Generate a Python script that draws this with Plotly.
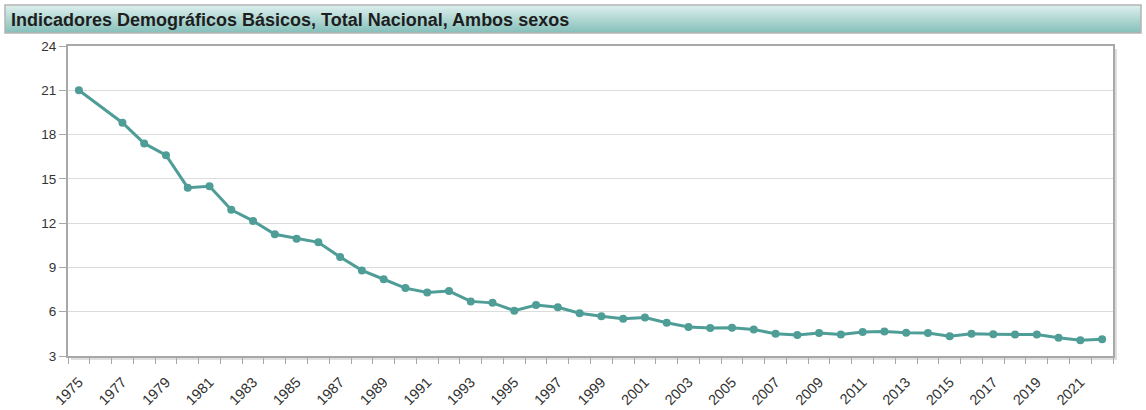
import plotly.graph_objects as go

# ---- data ----
years = list(range(1975, 2023))
values = [21.0, None, 18.8, 17.4, 16.6, 14.4, 14.5, 12.9, 12.15, 11.25,
          10.95, 10.7, 9.7, 8.8, 8.2, 7.6, 7.3, 7.4, 6.7, 6.6,
          6.07, 6.45, 6.3, 5.9, 5.7, 5.53, 5.6, 5.25, 4.97, 4.9,
          4.92, 4.8, 4.5, 4.42, 4.55, 4.46, 4.62, 4.66, 4.57, 4.55,
          4.34, 4.5, 4.48, 4.46, 4.45, 4.24, 4.07, 4.14]
label_years = years[::2]
y_ticks = [3, 6, 9, 12, 15, 18, 21, 24]
title_text = "Indicadores Demográficos Básicos, Total Nacional, Ambos sexos"

W, H = 1146, 410
ML, MR, MT, MB = 68, 33, 46, 54
PW, PH = W - ML - MR, H - MT - MB

def px_x(p):
    return (p - ML) / PW

def px_y(p):
    return (H - MB - p) / PH

line_color = "#4f9d97"
axis_grey = "#a8a8a8"
font_family = "Liberation Sans, Arial, sans-serif"

fig = go.Figure()
fig.add_trace(go.Scatter(
    x=years, y=values, mode="lines+markers", connectgaps=True,
    line=dict(color=line_color, width=3),
    marker=dict(color=line_color, size=8),
    hoverinfo="x+y", showlegend=False,
))

shapes = []
# shadow of plot frame
shapes.append(dict(type="rect", xref="paper", yref="paper", layer="below",
                   x0=px_x(ML + 3), x1=px_x(ML + PW + 4), y0=px_y(H - MB + 4), y1=px_y(MT + 3),
                   fillcolor="rgba(0,0,0,0.13)", line=dict(width=0)))
shapes.append(dict(type="rect", xref="paper", yref="paper", layer="below",
                   x0=0, x1=1, y0=0, y1=1, fillcolor="white", line=dict(width=0)))

# title bar gradient (stacked thin bands)
top, bot = 5, 33
c_top = (220, 239, 236)
c_bot = (134, 192, 187)
n = bot - top
for i in range(n):
    t = i / (n - 1)
    c = tuple(round(c_top[k] + (c_bot[k] - c_top[k]) * t) for k in range(3))
    shapes.append(dict(type="rect", xref="paper", yref="paper", layer="above",
                       x0=px_x(5), x1=px_x(1141), y0=px_y(top + i + 1), y1=px_y(top + i),
                       fillcolor="rgb(%d,%d,%d)" % c, line=dict(width=0)))
shapes.append(dict(type="rect", xref="paper", yref="paper", layer="above",
                   x0=px_x(5), x1=px_x(1141), y0=px_y(bot), y1=px_y(top),
                   fillcolor="rgba(0,0,0,0)", line=dict(color="#b4b4b4", width=1.5)))

fig.update_layout(
    width=W, height=H,
    margin=dict(l=ML, r=MR, t=MT, b=MB, pad=0, autoexpand=False),
    paper_bgcolor="white", plot_bgcolor="rgba(0,0,0,0)",
    font=dict(family=font_family, size=13.5, color="#333333"),
    shapes=shapes,
    annotations=[dict(text="<b>" + title_text + "</b>", xref="paper", yref="paper",
                      x=px_x(9), y=px_y(19.5), xanchor="left", yanchor="middle",
                      showarrow=False, font=dict(size=18, color="#1e1e1e", family=font_family))],
    xaxis=dict(
        range=[1974.5, 2022.5], tickmode="array", tickvals=label_years,
        ticktext=[str(y) for y in label_years], tickangle=-45, ticks="",
        ticklabelstandoff=10, automargin=False,
        showgrid=False, zeroline=False, showline=True, mirror=True,
        linecolor=axis_grey, linewidth=2,
        tickfont=dict(size=14.5, color="#333333"),
        minor=dict(tickmode="array", tickvals=[y - 0.5 for y in years] + [years[-1] + 0.5],
                   ticks="outside", ticklen=6, tickcolor=axis_grey, tickwidth=1, showgrid=False),
    ),
    yaxis=dict(
        range=[3, 24], tickmode="array", tickvals=y_ticks, automargin=False,
        ticks="outside", ticklen=7, tickcolor=axis_grey, tickwidth=1,
        showgrid=True, gridcolor="#dcdcdc", gridwidth=1, zeroline=False,
        showline=True, mirror=True, linecolor=axis_grey, linewidth=2,
        tickfont=dict(size=13.5, color="#333333"),
    ),
)

fig.write_html("out.html", config={"displayModeBar": False},
               post_script="document.body.style.margin='0';document.body.style.overflow='hidden';")
